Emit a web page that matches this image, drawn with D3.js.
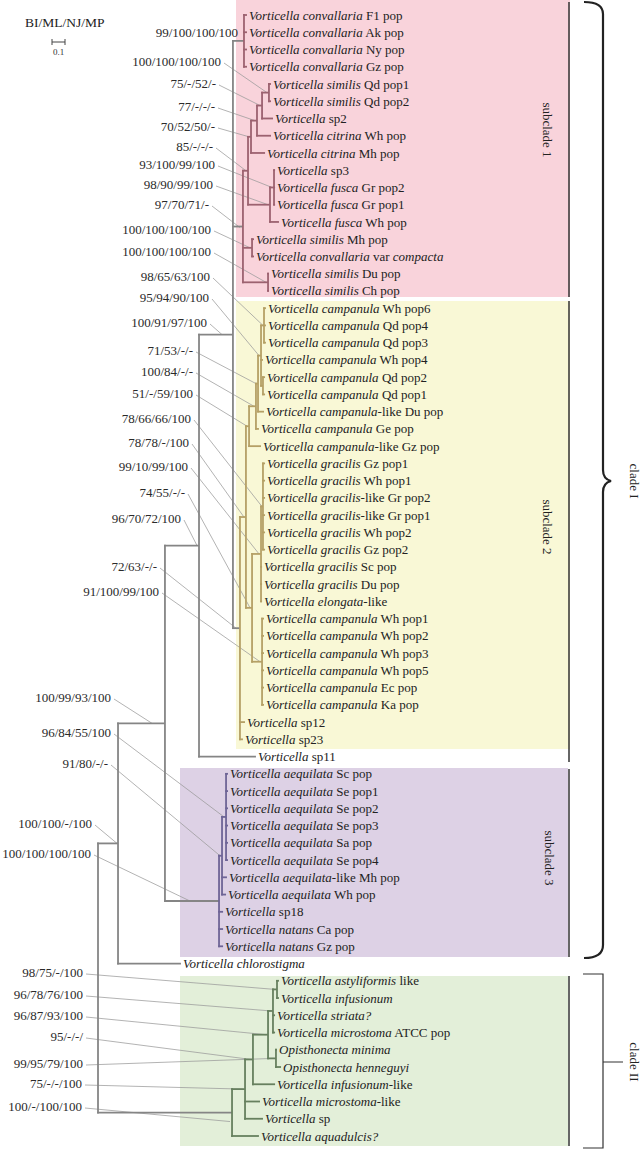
<!DOCTYPE html>
<html><head><meta charset="utf-8">
<script src="https://cdn.jsdelivr.net/npm/d3@7"></script>
<style>body{margin:0;background:#fff}svg{display:block}</style>
</head><body><svg id="c" width="644" height="1150"></svg>
<script>
// ---------------- DATA ----------------
const leafLabels = [
"*Vorticella convallaria* F1 pop","*Vorticella convallaria* Ak pop","*Vorticella convallaria* Ny pop","*Vorticella convallaria* Gz pop",
"*Vorticella similis* Qd pop1","*Vorticella similis* Qd pop2","*Vorticella* sp2","*Vorticella citrina* Wh pop","*Vorticella citrina* Mh pop",
"*Vorticella* sp3","*Vorticella fusca* Gr pop2","*Vorticella fusca* Gr pop1","*Vorticella fusca* Wh pop",
"*Vorticella similis* Mh pop","*Vorticella convallaria* var *compacta*","*Vorticella similis* Du pop","*Vorticella similis* Ch pop",
"*Vorticella campanula* Wh pop6","*Vorticella campanula* Qd pop4","*Vorticella campanula* Qd pop3","*Vorticella campanula* Wh pop4",
"*Vorticella campanula* Qd pop2","*Vorticella campanula* Qd pop1","*Vorticella campanula*-like Du pop","*Vorticella campanula* Ge pop",
"*Vorticella campanula*-like Gz pop","*Vorticella gracilis* Gz pop1","*Vorticella gracilis* Wh pop1","*Vorticella gracilis*-like Gr pop2",
"*Vorticella gracilis*-like Gr pop1","*Vorticella gracilis* Wh pop2","*Vorticella gracilis* Gz pop2","*Vorticella gracilis* Sc pop",
"*Vorticella gracilis* Du pop","*Vorticella elongata*-like","*Vorticella campanula* Wh pop1","*Vorticella campanula* Wh pop2",
"*Vorticella campanula* Wh pop3","*Vorticella campanula* Wh pop5","*Vorticella campanula* Ec pop","*Vorticella campanula* Ka pop",
"*Vorticella* sp12","*Vorticella* sp23","*Vorticella* sp11",
"*Vorticella aequilata* Sc pop","*Vorticella aequilata* Se pop1","*Vorticella aequilata* Se pop2","*Vorticella aequilata* Se pop3",
"*Vorticella aequilata* Sa pop","*Vorticella aequilata* Se pop4","*Vorticella aequilata*-like Mh pop","*Vorticella aequilata* Wh pop",
"*Vorticella* sp18","*Vorticella natans* Ca pop","*Vorticella natans* Gz pop","*Vorticella chlorostigma*",
"*Vorticella astyliformis* like","*Vorticella infusionum*","*Vorticella striata?*","*Vorticella microstoma* ATCC pop",
"*Opisthonecta minima*","*Opisthonecta henneguyi*","*Vorticella infusionum*-like","*Vorticella microstoma*-like",
"*Vorticella* sp","*Vorticella aquadulcis?*"];
const leafDepth = [
1.146,1.146,1.146,1.146,1.331,1.331,1.346,1.331,1.285,1.362,1.362,1.362,1.392,1.2,1.2,1.315,1.315,
1.292,1.292,1.292,1.269,1.285,1.285,1.277,1.238,1.254,1.285,1.285,1.285,1.285,1.285,1.285,1.262,1.262,1.262,
1.277,1.277,1.277,1.277,1.277,1.277,1.131,1.115,1.215,
1.0,1.0,1.0,1.0,1.0,1.0,0.992,0.985,0.962,0.962,0.962,0.638,
1.392,1.392,1.362,1.362,1.377,1.408,1.362,1.246,1.269,1.238];
const nodeIds = ["root","n118","n165","n199","n233","c1","s1j","s1g","s1d","s1c","s1b","s1a","s1f","s1e","s1h","s1i",
"n8","n7","n6","n5","n4","n3","n1","n2","g3","g2","g1","cw","s3","n222","aq","c2","n245","n253","n267","n271","ast","opis"];
const nodeDepth = [0,0.154,0.515,0.777,1.038,1.123,1.115,1.154,1.177,1.223,1.262,1.315,1.323,1.354,1.185,1.308,
1.092,1.138,1.162,1.215,1.231,1.254,1.277,1.269,1.185,1.254,1.269,1.262,0.931,0.954,0.985,1.031,1.131,1.192,1.308,1.346,1.377,1.369];
const nodeChildren = [
["n118","c2"],["n165","L55"],["n199","s3"],["n233","L43"],["c1","s1j","n8"],
["L0","L1","L2","L3"],["s1g","s1h","s1i"],["s1d","s1f"],["s1c","L8"],["s1b","L7"],["s1a","L6"],["L4","L5"],
["s1e","L12"],["L9","L10","L11"],["L13","L14"],["L15","L16"],
["n7","L41","L42"],["n6","g3"],["n5","L25"],["n4","L24"],["n3","L23"],["n1","L20","n2"],["L17","L18","L19"],["L21","L22"],
["g2","cw"],["g1","L32","L33","L34"],["L26","L27","L28","L29","L30","L31"],["L35","L36","L37","L38","L39","L40"],
["n222","L52","L53","L54"],["aq","L50","L51"],["L44","L45","L46","L47","L48","L49"],
["n245","L65"],["n253","L63","L64"],["n267","L62"],["n271","opis"],["ast","L58","L59"],["L56","L57"],["L60","L61"]];
const nodeGroup = ["g","g","g","g","g","s1","s1","s1","s1","s1","s1","s1","s1","s1","s1","s1",
"s2","s2","s2","s2","s2","s2","s2","s2","s2","s2","s2","s2","s3","s3","s3","c2","c2","c2","c2","c2","c2","c2"];
const supportText = ["99/100/100/100","100/100/100/100","75/-/52/-","77/-/-/-","70/52/50/-","85/-/-/-","93/100/99/100","98/90/99/100",
"97/70/71/-","100/100/100/100","100/100/100/100","98/65/63/100","95/94/90/100","100/91/97/100","71/53/-/-","100/84/-/-",
"51/-/59/100","78/66/66/100","78/78/-/100","99/10/99/100","74/55/-/-","96/70/72/100","72/63/-/-","91/100/99/100",
"100/99/93/100","96/84/55/100","91/80/-/-","100/100/-/100","100/100/100/100",
"98/75/-/100","96/78/76/100","96/87/93/100","95/-/-/","99/95/79/100","75/-/-/100","100/-/100/100"];
const supportNode = ["c1","s1a","s1b","s1c","s1d","s1g","s1e","s1f","s1j","s1h","s1i","n1","n3","n233","n4","n5",
"n6","g1","n7","g2","g3","n199","n8","cw","n165","aq","n222","n118","s3",
"ast","n271","n267","n253","opis","n245","c2"];
const cladeNames = ["subclade 1","subclade 2","subclade 3","clade I","clade II"];
const supportHeader = "BI/ML/NJ/MP";
const scaleBarValue = 0.1, scaleBarLabel = "0.1";

// ---------------- LAYOUT ----------------
const labelPos = [[238,32],[221,61],[216,83],[215,106],[215,126],[213,146],[215,164],[213,184],[209,204],[211,229],[211,251],
[210,276],[209,297],[207,322],[193,350],[193,371],[193,393],[191,418],[189,442],[188,466],[185,492],[181,518],[157,566],[159,591],
[111,697],[111,732],[108,763],[92,823],[91,853],[83,972],[83,994],[83,1015],[83,1036],[83,1063],[82,1083],[82,1106]];
const leaderAdj = {n233:[11,0],n8:[4,0],n165:[13,0],s3:[29,0],c2:[2,9],n118:[1,0],s1j:[3,1],n1:[1,0],g1:[1,0]};
const colors = {g:"#858585",s1:"#9c6270",s2:"#b5a066",s3:"#6e6596",c2:"#67805f"};
const font = "'Liberation Serif','Times New Roman',serif";

const svg = d3.select("#c");
const xS = d3.scaleLinear().domain([0,1]).range([98,228]);
const yS = d3.scalePoint().domain(d3.range(leafLabels.length)).range([15,1136]);

// boxes
const boxes = [[236,570,0,297,"#f9d3db"],[236,570,301,749,"#f9f8d6"],[180,568,768,957,"#ddd1e5"],[180,568,976,1146,"#e3efd9"]];
svg.selectAll("rect.box").data(boxes).join("rect").attr("class","box")
  .attr("x",d=>d[0]).attr("y",d=>d[2]).attr("width",d=>d[1]-d[0]).attr("height",d=>d[3]-d[2]).attr("fill",d=>d[4]);
const bars = [[569,2,297],[569,301,762],[569,769,957],[569,976,1146]];
svg.selectAll("line.bar").data(bars).join("line").attr("class","bar")
  .attr("x1",d=>d[0]).attr("x2",d=>d[0]).attr("y1",d=>d[1]).attr("y2",d=>d[2]).attr("stroke","#333").attr("stroke-width",1.5);

// build tree
const map = {};
nodeIds.forEach((id,i)=>{ map[id] = {id, dep:nodeDepth[i], group:nodeGroup[i]}; });
leafLabels.forEach((l,i)=>{ map["L"+i] = {id:"L"+i, leaf:i, dep:leafDepth[i]}; });
nodeIds.forEach((id,i)=>{ map[id].children = nodeChildren[i].map(c=>map[c]); });
const root = d3.hierarchy(map.root, d=>d.children);
root.eachAfter(n=>{
  n.px = xS(n.data.dep);
  if (n.children) n.py = (n.children[0].py + n.children[n.children.length-1].py)/2;
  else n.py = yS(n.data.leaf);
});
root.each(n=>{ n.grp = n.data.group || n.parent.data.group; });
const byId = {}; root.each(n=>byId[n.data.id]=n);

// leaders
const gL = svg.append("g");
supportText.forEach((t,i)=>{
  const nid = supportNode[i]; if (nid==="c1") return;
  const n = byId[nid]; const a = leaderAdj[nid]||[2,0];
  const p = labelPos[i];
  gL.append("line").attr("x1",p[0]+3).attr("y1",p[1]+2).attr("x2",n.px-a[0]).attr("y2",n.py+a[1])
    .attr("stroke","#9a9a9a").attr("stroke-width",0.75);
});

// branches
const gB = svg.append("g").attr("stroke-width",1.8).attr("fill","none");
root.descendants().filter(n=>n.parent).forEach(n=>{
  const c = (n.grp===n.parent.grp) ? colors[n.grp] : colors.g;
  gB.append("line").attr("x1",n.parent.px-0.9).attr("x2",n.px).attr("y1",n.py).attr("y2",n.py).attr("stroke",c);
});
root.descendants().filter(n=>n.children).forEach(n=>{
  const f = n.children[0], l = n.children[n.children.length-1];
  gB.append("line").attr("x1",n.px).attr("x2",n.px).attr("y1",f.py-0.9).attr("y2",l.py+0.9).attr("stroke",colors[n.grp]);
});

// leaf labels
const gT = svg.append("g").attr("font-family",font).attr("font-size",13).attr("fill","#222");
root.leaves().forEach(n=>{
  const t = gT.append("text").attr("x",n.px+2).attr("y",n.py).attr("dy","0.35em");
  leafLabels[n.data.leaf].split("*").forEach((s,k)=>{ if(s) t.append("tspan").text(s).attr("font-style",k%2?"italic":"normal"); });
});

// support labels
supportText.forEach((t,i)=>{
  gT.append("text").attr("x",labelPos[i][0]).attr("y",labelPos[i][1]).attr("dy","0.35em").attr("text-anchor","end").attr("fill","#2a2a2a").text(t);
});

// header and scale bar
gT.append("text").attr("x",25).attr("y",22).attr("dy","0.35em").attr("font-size",13.5).text(supportHeader);
const sb0 = 52, sb1 = sb0 + (xS(scaleBarValue)-xS(0));
svg.append("path").attr("d",`M${sb0},39V45M${sb0},42H${sb1}M${sb1},39V45`).attr("stroke","#444").attr("stroke-width",1).attr("fill","none");
svg.append("text").attr("x",(sb0+sb1)/2).attr("y",52).attr("dy","0.35em").attr("text-anchor","middle").attr("font-family",font).attr("font-size",9).attr("fill","#333").text(scaleBarLabel);

// clade labels (rotated)
const cladePos = [[548,130],[548,527],[550,858],[635,481],[635,1062]];
cladeNames.forEach((c,i)=>{
  gT.append("text").attr("transform",`translate(${cladePos[i][0]},${cladePos[i][1]}) rotate(90)`).attr("text-anchor","middle").attr("dy","0.35em").text(c);
});

// brace for clade I and bracket for clade II
svg.append("path").attr("d","M584,2 Q603,2 603,14 L603,470 Q603,479 611,481 Q603,483 603,492 L603,945 Q603,958 584,958")
  .attr("fill","none").attr("stroke","#222").attr("stroke-width",2.2);
svg.append("path").attr("d","M583,974 H603 V1148 H583 M603,1062 H623").attr("fill","none").attr("stroke","#333").attr("stroke-width",1.2);
</script></body></html>
